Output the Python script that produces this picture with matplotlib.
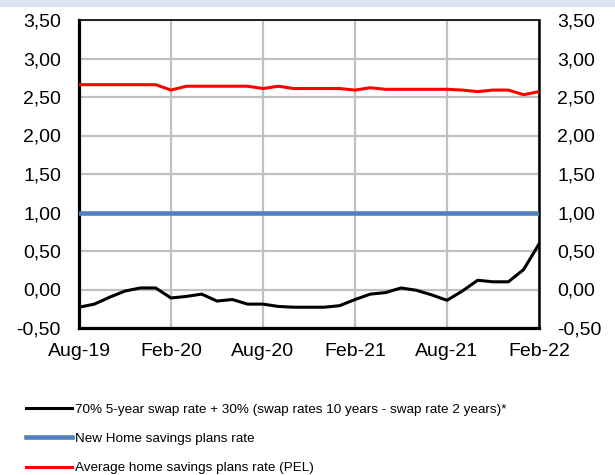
import matplotlib
matplotlib.use("Agg")
import matplotlib.pyplot as plt
import matplotlib.ticker as mticker
import pandas as pd

# データ (月次: 2019年8月 - 2022年2月)
months = pd.date_range("2019-08-01", periods=31, freq="MS")
swap_rate = [-0.23, -0.19, -0.10, -0.02, 0.02, 0.02, -0.11, -0.09, -0.06, -0.15,
             -0.13, -0.19, -0.19, -0.22, -0.23, -0.23, -0.23, -0.21, -0.13, -0.06,
             -0.04, 0.02, -0.01, -0.07, -0.14, -0.02, 0.12, 0.10, 0.10, 0.26, 0.59]
new_pel = [1.00] * 31
avg_pel = [2.66, 2.66, 2.66, 2.66, 2.66, 2.66, 2.59, 2.64, 2.64, 2.64,
           2.64, 2.64, 2.61, 2.64, 2.61, 2.61, 2.61, 2.61, 2.59, 2.62,
           2.60, 2.60, 2.60, 2.60, 2.60, 2.59, 2.57, 2.59, 2.59, 2.53, 2.57]
labels = ["70% 5-year swap rate + 30% (swap rates 10 years - swap rate 2 years)*",
          "New Home savings plans rate",
          "Average home savings plans rate (PEL)"]

plt.rcParams["font.family"] = ["Liberation Sans", "DejaVu Sans"]

fig = plt.figure(figsize=(6.15, 4.75), dpi=100)
ax = fig.add_axes([79 / 615, 1 - 328 / 475, 460 / 615, 308 / 475])

# 上部の薄い青の帯
fig.patches.append(plt.Rectangle((0, 1 - 6 / 475), 1, 6 / 475, transform=fig.transFigure,
                                 color="#dce6f2", zorder=0))

x = list(range(len(months)))
ax.plot(x, swap_rate, color="black", lw=2.2, label=labels[0], zorder=3)
ax.plot(x, new_pel, color="#4f81bd", lw=3.3, label=labels[1], zorder=3)
ax.plot(x, avg_pel, color="#ff0000", lw=2.2, label=labels[2], zorder=3)

ax.set_xlim(0, 30)
ax.set_ylim(-0.5, 3.5)
ax.set_yticks([i * 0.5 - 0.5 for i in range(9)])
ax.yaxis.set_major_formatter(mticker.FuncFormatter(lambda v, p: f"{v:.2f}".replace(".", ",")))
ax.set_xticks(range(0, 31, 6))
ax.set_xticklabels([months[i].strftime("%b-%y") for i in range(0, 31, 6)])

ax.grid(True, color="#c0c0c0", lw=1.6, zorder=1)
ax.tick_params(length=0, labelsize=14, labelright=True)
ax.tick_params(axis="y", pad=13)
ax.tick_params(axis="x", pad=11)

ax.spines["left"].set_linewidth(2.3)
ax.spines["bottom"].set_linewidth(2.3)
ax.spines["right"].set_linewidth(1.8)
ax.spines["top"].set_linewidth(1.2)

handles, lbls = ax.get_legend_handles_labels()
fig.legend(handles, lbls, loc="upper left", bbox_to_anchor=(21 / 615, 1 - 398 / 475),
           frameon=False, fontsize=9.7, handlelength=3.35, handletextpad=0.25,
           labelspacing=1.25, borderaxespad=0)

fig.savefig("out.png", dpi=100)
